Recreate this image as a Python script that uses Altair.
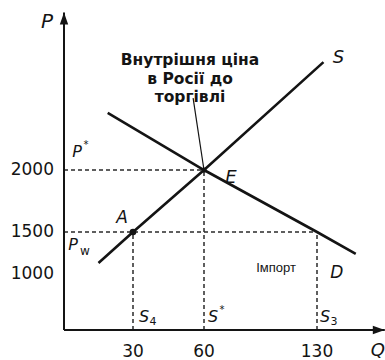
import altair as alt
import pandas as pd

# ---- values ---------------------------------------------------------------
q_ticks = [30, 60, 130]
p_ticks = [1000, 1500, 2000]

# supply curve S and demand curve D (quantity, price)
supply_q = [15, 30, 60, 134]
supply_p = [1130, 1500, 2000, 2870]
demand_q = [19, 60, 130, 154]
demand_p = [2460, 2000, 1500, 1240]

p_world = 1500          # world price P_w
q_dom_world = 30        # domestic supply at P_w (S4)
q_dem_world = 130       # demand at P_w (S3)
p_eq = 2000             # autarky price P*
q_eq = 60               # autarky quantity S*

Q_MAX = 172
P_MAX = 3270
callout_q, callout_p = 55.4, 2580

INK = "#141414"
FONT = "DejaVu Sans"

# schematic (piecewise) axes, as in the textbook drawing
xs = alt.Scale(domain=[0, 30, 60, 130], range=[64, 133, 204, 317], nice=False, zero=False)
ys = alt.Scale(domain=[0, 1000, 1500, 2000], range=[330, 274, 232, 170], nice=False, zero=False)
X = alt.X("q:Q", scale=xs, axis=None)
Y = alt.Y("p:Q", scale=ys, axis=None)


def pt(q, p):
    return pd.DataFrame({"q": [q], "p": [p]})


def seg(q, p, q2, p2, **kw):
    df = pd.DataFrame({"q": [q], "p": [p], "q2": [q2], "p2": [p2]})
    return alt.Chart(df).mark_rule(**kw).encode(x=X, y=Y, x2="q2:Q", y2="p2:Q")


def label(text, q, p, dx=0, dy=0, size=18, style="normal", weight="normal",
          align="center", font=FONT):
    return alt.Chart(pt(q, p)).mark_text(
        text=text, dx=dx, dy=dy, fontSize=size, fontStyle=style, fontWeight=weight,
        align=align, baseline="middle", font=font, color=INK,
    ).encode(x=X, y=Y)


dash = dict(color="#2a2a2a", strokeWidth=1.5, strokeDash=[4, 3])
layers = []

# dashed guides
layers.append(seg(0, p_eq, q_eq, p_eq, **dash))
layers.append(seg(0, p_world, q_dem_world, p_world, **dash))
layers.append(seg(q_dom_world, 0, q_dom_world, p_world, **dash))
layers.append(seg(q_eq, 0, q_eq, p_eq, **dash))
layers.append(seg(q_dem_world, 0, q_dem_world, p_world, **dash))

# axes with arrowheads
layers.append(seg(0, 0, Q_MAX, 0, color=INK, strokeWidth=2))
layers.append(seg(0, 0, 0, P_MAX, color=INK, strokeWidth=2))
layers.append(alt.Chart(pt(0, P_MAX)).mark_point(
    shape="M0,0L-0.7,2L0.7,2Z", size=144, filled=True, opacity=1, color=INK).encode(x=X, y=Y))
layers.append(alt.Chart(pt(Q_MAX, 0)).mark_point(
    shape="M0,0L-2,-0.7L-2,0.7Z", size=144, filled=True, opacity=1, color=INK).encode(x=X, y=Y))

# supply and demand
supply = pd.DataFrame({"q": supply_q, "p": supply_p, "o": range(len(supply_q))})
demand = pd.DataFrame({"q": demand_q, "p": demand_p, "o": range(len(demand_q))})
layers.append(alt.Chart(supply).mark_line(color=INK, strokeWidth=2.6).encode(x=X, y=Y, order="o:Q"))
layers.append(alt.Chart(demand).mark_line(color=INK, strokeWidth=2.6).encode(x=X, y=Y, order="o:Q"))

# callout to the autarky equilibrium
layers.append(seg(callout_q, callout_p, q_eq, p_eq, color=INK, strokeWidth=1.2))

# points A and E
layers.append(alt.Chart(pt(q_dom_world, p_world)).mark_circle(size=44, color=INK, opacity=1).encode(x=X, y=Y))
layers.append(alt.Chart(pt(q_eq, p_eq)).mark_circle(size=26, color=INK, opacity=1).encode(x=X, y=Y))

# tick labels
for q in q_ticks:
    layers.append(label(str(q), q, 0, dy=22, size=17))
for p in p_ticks:
    layers.append(label(str(p), 0, p, dx=-10, size=17, align="right"))

# axis names
layers.append(label("P", 0, P_MAX, dx=-17, dy=9, size=20, style="italic"))
layers.append(label("Q", Q_MAX, 0, dx=-14, dy=21, size=18, style="italic", align="left"))

# curve and point names
layers.append(label("S", supply_q[-1], supply_p[-1], dx=15, dy=-4, size=18, style="italic"))
layers.append(label("D", demand_q[-1], demand_p[-1], dx=-19, dy=19, size=17, style="italic"))
layers.append(label("E", q_eq, p_eq, dx=27, dy=8, size=18, style="italic"))
layers.append(label("A", q_dom_world, p_world, dx=-11, dy=-14, size=17, style="italic"))

layers.append(label("P", 0, p_eq, dx=13, dy=-18, size=16, style="italic"))
layers.append(label("*", 0, p_eq, dx=22, dy=-25, size=10))
layers.append(label("P", 0, p_world, dx=9, dy=13, size=16, style="italic"))
layers.append(label("w", 0, p_world, dx=21, dy=19, size=12))

layers.append(label("S", q_dom_world, 0, dx=11, dy=-13, size=16, style="italic"))
layers.append(label("4", q_dom_world, 0, dx=20, dy=-8, size=11))
layers.append(label("S", q_eq, 0, dx=9, dy=-13, size=16, style="italic"))
layers.append(label("*", q_eq, 0, dx=18, dy=-20, size=10))
layers.append(label("S", q_dem_world, 0, dx=8, dy=-13, size=16, style="italic"))
layers.append(label("3", q_dem_world, 0, dx=17, dy=-8, size=11))

layers.append(label("Імпорт", q_eq, 0, dx=72, dy=-62, size=13, font="Liberation Sans"))

# caption for the autarky price
layers.append(alt.Chart(pt(q_eq, p_eq)).mark_text(
    text=["Внутрішня ціна", "в Росії до", "торгівлі"], dx=-14, dy=-110,
    fontSize=15.5, fontWeight="bold", lineHeight=18.5, align="center", baseline="middle",
    font=FONT, color=INK,
).encode(x=X, y=Y))

chart = alt.layer(*layers).properties(
    width=385, height=360, padding=0, autosize="none", background="white"
).configure_view(stroke=None)

chart.save("out.html", embed_options={"renderer": "svg", "actions": False})
